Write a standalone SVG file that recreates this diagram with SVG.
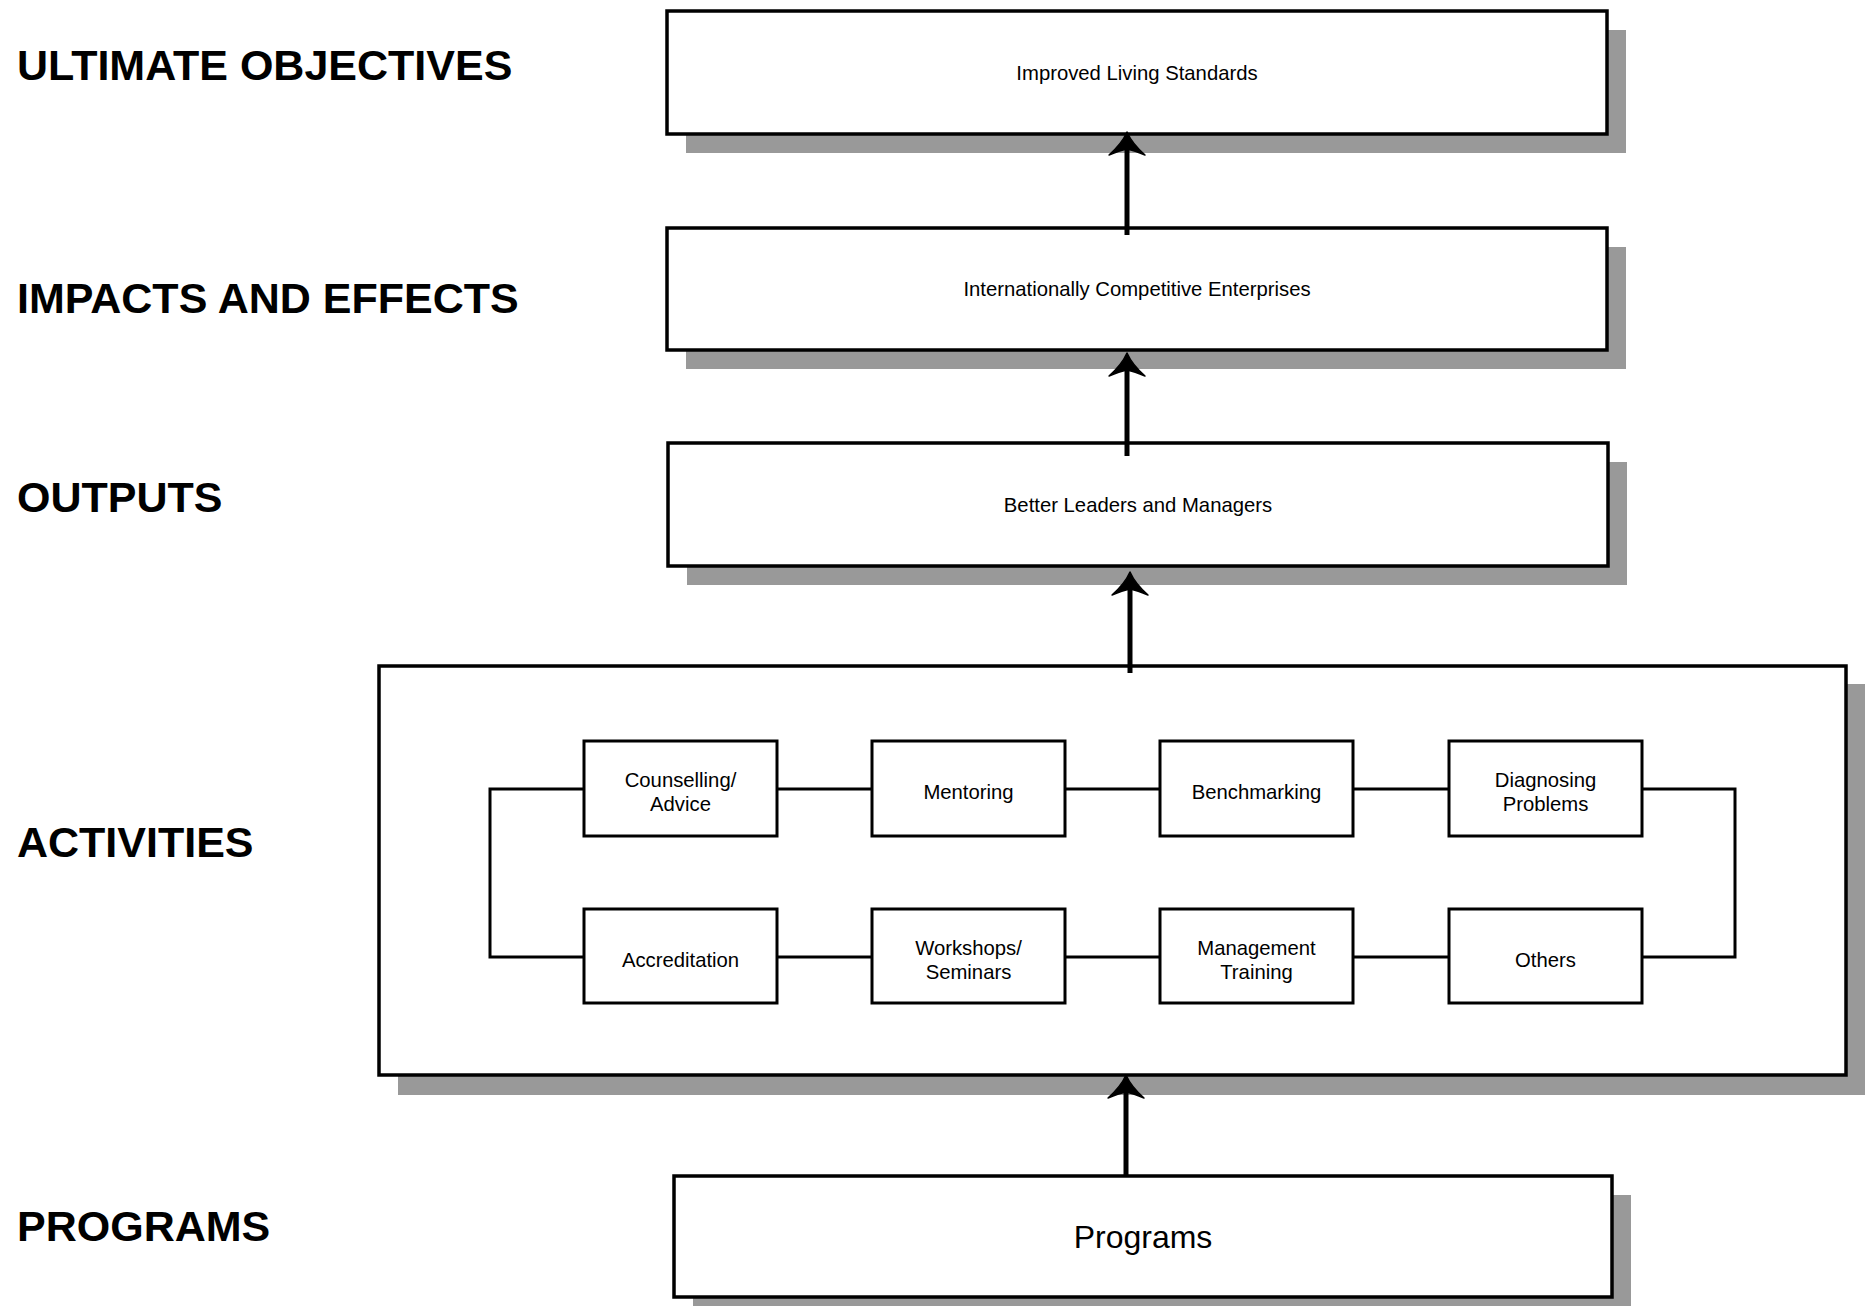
<svg xmlns="http://www.w3.org/2000/svg" width="1868" height="1306" viewBox="0 0 1868 1306">
<style>
  .bg{fill:#ffffff}
  .shadow{fill:#999999}
  .box{fill:#ffffff;stroke:#000000;stroke-width:3.5}
  .ibox{fill:#ffffff;stroke:#000000;stroke-width:3}
  .lbl{font-family:"Liberation Sans",Arial,sans-serif;font-weight:bold;font-size:43px;fill:#000}
  .t{font-family:"Liberation Sans",Arial,sans-serif;font-size:20.3px;fill:#000;text-anchor:middle}
  .tb{font-family:"Liberation Sans",Arial,sans-serif;font-size:32px;fill:#000;text-anchor:middle}
  .shaft{stroke:#000;stroke-width:5;fill:none}
  .loop{stroke:#000;stroke-width:3;fill:none}
</style>
<defs>
  <path id="head" d="M0,-1 C4,8 10,15 18,22 C11,19 5,17 0,16 C-5,17 -11,19 -18,22 C-10,15 -4,8 0,-1 Z" fill="#000" stroke="#000" stroke-width="1.5" stroke-linejoin="round"/>
</defs>
<rect class="bg" x="0" y="0" width="1868" height="1306"/>

<g id="labels">
  <text class="lbl" x="17" y="80">ULTIMATE OBJECTIVES</text>
  <text class="lbl" x="17" y="313">IMPACTS AND EFFECTS</text>
  <text class="lbl" x="17" y="512">OUTPUTS</text>
  <text class="lbl" x="17" y="857">ACTIVITIES</text>
  <text class="lbl" x="17" y="1241">PROGRAMS</text>
</g>

<g id="node-objectives">
  <rect class="shadow" x="686" y="30" width="940" height="123"/>
  <rect class="box" x="667" y="11" width="940" height="123"/>
  <text class="t" x="1137" y="80">Improved Living Standards</text>
</g>
<g id="node-impacts">
  <rect class="shadow" x="686" y="247" width="940" height="122"/>
  <rect class="box" x="667" y="228" width="940" height="122"/>
  <text class="t" x="1137" y="296">Internationally Competitive Enterprises</text>
</g>
<g id="node-outputs">
  <rect class="shadow" x="687" y="462" width="940" height="123"/>
  <rect class="box" x="668" y="443" width="940" height="123"/>
  <text class="t" x="1138" y="512">Better Leaders and Managers</text>
</g>
<g id="node-activities">
  <rect class="shadow" x="398" y="684" width="1467" height="411"/>
  <rect class="box" x="379" y="666" width="1467" height="409"/>
</g>
<g id="node-programs">
  <rect class="shadow" x="693" y="1195" width="938" height="121"/>
  <rect class="box" x="674" y="1176" width="938" height="121"/>
  <text class="tb" x="1143" y="1248">Programs</text>
</g>

<g id="connectors">
  <line class="shaft" x1="1127" y1="235" x2="1127" y2="145"/>
  <use href="#head" x="1127" y="133"/>
  <line class="shaft" x1="1127" y1="456" x2="1127" y2="366"/>
  <use href="#head" x="1127" y="354"/>
  <line class="shaft" x1="1130" y1="673" x2="1130" y2="585"/>
  <use href="#head" x="1130" y="573"/>
  <line class="shaft" x1="1126" y1="1177" x2="1126" y2="1088"/>
  <use href="#head" x="1126" y="1076"/>
  <rect class="loop" x="490" y="789" width="1245" height="168"/>
</g>

<g id="node-counselling">
  <rect class="ibox" x="584" y="741" width="193" height="95"/>
  <text class="t" x="680.5" y="787">Counselling/</text>
  <text class="t" x="680.5" y="811">Advice</text>
</g>
<g id="node-mentoring">
  <rect class="ibox" x="872" y="741" width="193" height="95"/>
  <text class="t" x="968.5" y="799">Mentoring</text>
</g>
<g id="node-benchmarking">
  <rect class="ibox" x="1160" y="741" width="193" height="95"/>
  <text class="t" x="1256.5" y="799">Benchmarking</text>
</g>
<g id="node-diagnosing">
  <rect class="ibox" x="1449" y="741" width="193" height="95"/>
  <text class="t" x="1545.5" y="787">Diagnosing</text>
  <text class="t" x="1545.5" y="811">Problems</text>
</g>
<g id="node-accreditation">
  <rect class="ibox" x="584" y="909" width="193" height="94"/>
  <text class="t" x="680.5" y="967">Accreditation</text>
</g>
<g id="node-workshops">
  <rect class="ibox" x="872" y="909" width="193" height="94"/>
  <text class="t" x="968.5" y="955">Workshops/</text>
  <text class="t" x="968.5" y="979">Seminars</text>
</g>
<g id="node-management">
  <rect class="ibox" x="1160" y="909" width="193" height="94"/>
  <text class="t" x="1256.5" y="955">Management</text>
  <text class="t" x="1256.5" y="979">Training</text>
</g>
<g id="node-others">
  <rect class="ibox" x="1449" y="909" width="193" height="94"/>
  <text class="t" x="1545.5" y="967">Others</text>
</g>
</svg>
